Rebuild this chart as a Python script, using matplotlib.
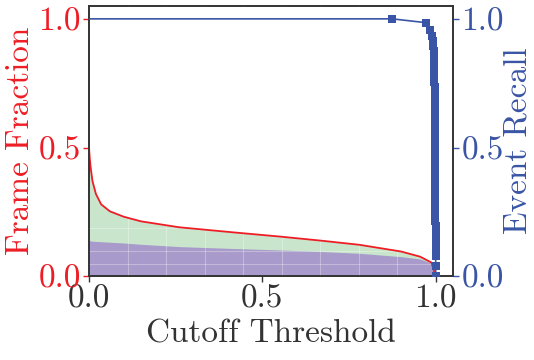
import matplotlib
matplotlib.use("Agg")
import matplotlib.pyplot as plt
import numpy as np

# frame fraction curves
cutoff = [0.0, 0.002, 0.005, 0.01, 0.02, 0.035, 0.06, 0.10, 0.15, 0.26, 0.41,
          0.55, 0.67, 0.78, 0.90, 0.955, 0.988, 1.0]
frame_frac = [0.50, 0.46, 0.42, 0.37, 0.32, 0.28, 0.253, 0.232, 0.214, 0.191,
              0.172, 0.155, 0.139, 0.123, 0.097, 0.077, 0.054, 0.0]
event_frac = [0.14, 0.139, 0.138, 0.137, 0.136, 0.135, 0.133, 0.130, 0.125,
              0.116, 0.109, 0.103, 0.097, 0.090, 0.077, 0.068, 0.051, 0.0]

# event recall vs threshold
rec_thresh = [0.0, 0.875, 0.973, 0.985, 0.990, 0.992, 0.993, 0.994, 0.995,
              0.995, 0.996, 0.996, 0.996, 0.996, 0.997, 0.997, 0.997, 0.997,
              0.997, 0.997, 0.998, 0.998, 0.998, 0.998, 0.998, 0.998, 0.998,
              0.998, 0.999, 0.999, 0.999, 0.999, 0.999, 0.999, 0.999, 0.999,
              0.9995, 0.9995, 0.9995, 0.9995, 0.9995, 1.0, 1.0, 1.0, 1.0,
              1.0, 1.0, 1.0]
recall = [1.0, 1.0, 0.985, 0.956, 0.935, 0.915, 0.895, 0.875, 0.855, 0.835,
          0.815, 0.795, 0.775, 0.755, 0.735, 0.715, 0.695, 0.675, 0.655, 0.635,
          0.615, 0.595, 0.575, 0.555, 0.535, 0.515, 0.495, 0.475, 0.455, 0.435,
          0.415, 0.395, 0.375, 0.355, 0.335, 0.315, 0.295, 0.275, 0.255, 0.235,
          0.215, 0.195, 0.17, 0.14, 0.11, 0.08, 0.04, 0.0]

ticks = [0.0, 0.5, 1.0]
tick_labels = ["0.0", "0.5", "1.0"]

RED = "#ee1d25"
BLUE = "#3a55a5"
DARK = "#333333"

plt.rcParams["font.family"] = "serif"
plt.rcParams["font.serif"] = ["cmr10", "DejaVu Serif"]
plt.rcParams["mathtext.fontset"] = "cm"
plt.rcParams["axes.unicode_minus"] = False

fig = plt.figure(figsize=(5.34, 3.6), dpi=100)
ax = fig.add_axes([0.1667, 0.232, 0.6816, 0.7514])

ax.fill_between(cutoff, 0, frame_frac, color="#c9e6cc", lw=0, zorder=1)
ax.fill_between(cutoff, 0, event_frac, color="#a89bcb", lw=0, zorder=2)
ax.plot(cutoff, frame_frac, color=RED, lw=1.3, zorder=4)

# faint grid, only visible over the fills
ax.set_xticks([1/9, 2/9, 3/9, 4/9, 5/9, 6/9, 7/9, 8/9], minor=True)
ax.set_yticks([0.047, 0.097, 0.1875], minor=True)
ax.grid(which="minor", color="white", alpha=0.3, lw=0.8, zorder=3)
ax.set_axisbelow(False)
ax.tick_params(which="minor", length=0)

ax.set_xlim(0, 1.05)
ax.set_ylim(0, 1.05)
ax.set_xticks(ticks)
ax.set_xticklabels(tick_labels)
ax.set_yticks(ticks)
ax.set_yticklabels(tick_labels)
ax.tick_params(axis="x", labelsize=24, colors=DARK, length=4, width=1, pad=2)
ax.tick_params(axis="y", labelsize=24, colors=RED, length=4, width=1, pad=2)
ax.set_xlabel("Cutoff Threshold", fontsize=24, color=DARK, labelpad=4)
ax.set_ylabel("Frame Fraction", fontsize=24, color=RED, labelpad=2)

ax2 = ax.twinx()
ax2.plot(rec_thresh, recall, color=BLUE, lw=1.2, marker="s", markersize=6.2,
         markeredgewidth=0, markevery=slice(1, None), zorder=5)
ax2.set_ylim(0, 1.05)
ax2.set_yticks(ticks)
ax2.set_yticklabels(tick_labels)
ax2.tick_params(axis="y", labelsize=24, colors=BLUE, length=4, width=1, pad=2)
ax2.set_ylabel("Event Recall", fontsize=24, color=BLUE, labelpad=0)

for a in (ax, ax2):
    for s in a.spines.values():
        s.set_color(DARK)
        s.set_linewidth(1.2)

fig.savefig("out.png", dpi=100)
